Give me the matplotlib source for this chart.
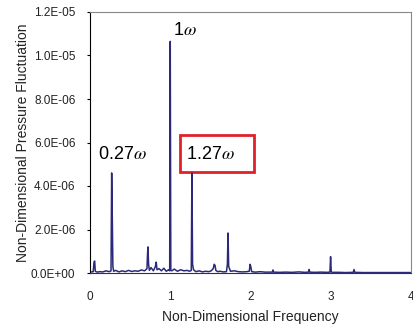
import matplotlib
matplotlib.use("Agg")
import matplotlib.pyplot as plt
from matplotlib.patches import Rectangle

plt.rcParams['font.family'] = ['Liberation Sans', 'DejaVu Sans']
plt.rcParams['mathtext.fontset'] = 'stix'

# Non-dimensional frequency and pressure-fluctuation amplitude (x1e-6)
freq = [0.00, 0.02, 0.04, 0.050, 0.058, 0.066, 0.09, 0.12, 0.16, 0.20, 0.24,
        0.262, 0.270, 0.278, 0.285, 0.295, 0.32, 0.36, 0.40, 0.44, 0.48, 0.52,
        0.56, 0.60, 0.64, 0.68, 0.71, 0.716, 0.722, 0.730, 0.74, 0.76, 0.79,
        0.815, 0.825, 0.835, 0.86, 0.89, 0.92, 0.95, 0.98, 0.993, 1.000, 1.007,
        1.02, 1.05, 1.09, 1.13, 1.17, 1.21, 1.24, 1.262, 1.270, 1.278, 1.29,
        1.32, 1.36, 1.40, 1.44, 1.48, 1.51, 1.535, 1.548, 1.558, 1.568, 1.59,
        1.62, 1.66, 1.70, 1.712, 1.720, 1.728, 1.75, 1.80, 1.85, 1.90, 1.95,
        1.985, 1.995, 2.003, 2.015, 2.06, 2.12, 2.18, 2.24, 2.272, 2.28, 2.288,
        2.36, 2.44, 2.52, 2.60, 2.68, 2.722, 2.73, 2.738, 2.80, 2.88, 2.95,
        2.990, 2.998, 3.006, 3.02, 3.10, 3.18, 3.28, 3.29, 3.30, 3.40, 3.55,
        3.70, 3.85, 4.00]
amp = [0.05, 0.05, 0.06, 0.50, 0.55, 0.08, 0.04, 0.06, 0.05, 0.10, 0.06,
       0.10, 4.60, 2.50, 0.30, 0.08, 0.12, 0.05, 0.10, 0.06, 0.12, 0.07,
       0.10, 0.08, 0.14, 0.10, 0.20, 0.80, 1.20, 0.40, 0.12, 0.25, 0.10,
       0.30, 0.50, 0.15, 0.20, 0.10, 0.22, 0.08, 0.15, 0.10, 10.65, 0.12,
       0.10, 0.18, 0.08, 0.15, 0.10, 0.12, 0.08, 0.12, 4.60, 0.40, 0.15,
       0.06, 0.10, 0.05, 0.08, 0.06, 0.10, 0.20, 0.40, 0.35, 0.12, 0.06,
       0.08, 0.05, 0.06, 0.40, 1.84, 0.30, 0.08, 0.10, 0.06, 0.05, 0.06,
       0.08, 0.40, 0.30, 0.06, 0.04, 0.06, 0.04, 0.04, 0.04, 0.14, 0.04,
       0.03, 0.04, 0.03, 0.05, 0.03, 0.04, 0.16, 0.04, 0.03, 0.04, 0.03,
       0.04, 0.75, 0.05, 0.03, 0.03, 0.02, 0.03, 0.16, 0.03, 0.02, 0.02,
       0.02, 0.02, 0.02]

xticks = [0, 1, 2, 3, 4]
yticks = [0, 2e-6, 4e-6, 6e-6, 8e-6, 1.0e-5, 1.2e-5]
ytick_labels = ['0.0E+00', '2.0E-06', '4.0E-06', '6.0E-06', '8.0E-06', '1.0E-05', '1.2E-05']

fig = plt.figure(figsize=(4.13, 3.29), dpi=100)
ax = fig.add_axes([90/413, 1 - 273/329, 321/413, 261/329])

ax.plot(freq, [a * 1e-6 for a in amp], color='#2a2a78', lw=1.1)
ax.set_xlim(0, 4)
ax.set_ylim(0, 1.2e-5)
ax.set_xticks(xticks)
ax.set_xticklabels([str(t) for t in xticks], fontsize=8.5, color='#222222')
ax.set_yticks(yticks)
ax.set_yticklabels(ytick_labels, fontsize=8.5, color='#222222')
ax.tick_params(axis='x', length=0, pad=13)
ax.tick_params(axis='y', direction='out', length=2.5, width=0.8, pad=8)
ax.set_xlabel('Non-Dimensional Frequency', fontsize=10, labelpad=5, color='#222222')
ax.set_ylabel('Non-Dimensional Pressure Fluctuation', fontsize=10, labelpad=1, color='#222222')
for s in ['top', 'right']:
    ax.spines[s].set_color('#888888')
ax.spines['left'].set_color('black')
ax.spines['bottom'].set_color('#2a2a78')

ax.text(1.03, 1.115e-5, r'1$\omega$', fontsize=13, ha='left', va='center')
ax.text(0.10, 5.45e-6, r'0.27$\omega$', fontsize=13, ha='left', va='center')
ax.text(1.20, 5.45e-6, r'1.27$\omega$', fontsize=13, ha='left', va='center')
ax.add_patch(Rectangle((1.125, 4.65e-6), 0.92, 1.70e-6, fill=False,
                       edgecolor='#e0202a', lw=2, clip_on=False))

fig.savefig('out.png', dpi=100)
